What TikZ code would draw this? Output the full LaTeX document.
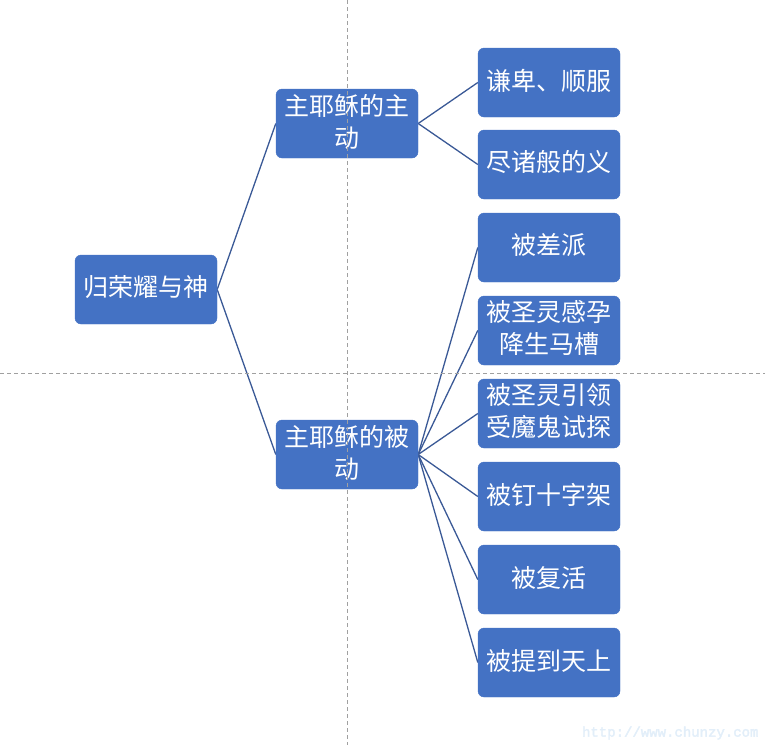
\documentclass[tikz,border=0pt]{standalone}
\usepackage{fontspec}
\usetikzlibrary{backgrounds}
\newfontfamily\cjk{Noto Sans CJK SC}
\newfontfamily\wmfont{Liberation Mono}[FakeBold=2.5]
\definecolor{boxblue}{HTML}{4472C4}
\definecolor{edgeblue}{HTML}{3A5996}
\definecolor{guidegray}{HTML}{A0A0A0}
\definecolor{wmblue}{HTML}{E2EEF9}
\tikzset{
  box/.style={rectangle, rounded corners=6pt, fill=boxblue, draw=boxblue,
    minimum width=142pt, minimum height=69pt, inner sep=0pt, align=center,
    text=white, font=\cjk\fontsize{25}{32}\selectfont},
  lbl/.style={text=white, align=center, inner sep=0pt,
    font=\cjk\fontsize{25}{32}\selectfont},
  link/.style={draw=edgeblue, line width=1.3pt},
  guide/.style={draw=guidegray, line width=0.9pt, dash pattern=on 4pt off 3pt},
}
\begin{document}
\begin{tikzpicture}[x=1pt, y=-1pt]
\useasboundingbox (0,0) rectangle (765,745);
\node[box] (root) at (146,289.5) {};
\node[box] (a1) at (347,123.5) {};
\node[box] (a2) at (347,454.5) {};
\node[box] (r1) at (549,82.5) {};
\node[box] (r2) at (549,164.5) {};
\node[box] (r3) at (549,247.5) {};
\node[box] (r4) at (549,330.5) {};
\node[box] (r5) at (549,413.5) {};
\node[box] (r6) at (549,496.5) {};
\node[box] (r7) at (549,579.5) {};
\node[box] (r8) at (549,662.5) {};
\node[lbl] (troot) at ([yshift=2pt]root.center) {归荣耀与神};
\node[lbl] (ta1) at ([yshift=2pt]a1.center) {主耶稣的主\\动};
\node[lbl] (ta2) at ([yshift=2pt]a2.center) {主耶稣的被\\动};
\node[lbl] (tr1) at ([yshift=2pt]r1.center) {谦卑、顺服};
\node[lbl] (tr2) at ([yshift=2pt]r2.center) {尽诸般的义};
\node[lbl] (tr3) at ([yshift=2pt]r3.center) {被差派};
\node[lbl] (tr4) at ([yshift=2pt]r4.center) {被圣灵感孕\\降生马槽};
\node[lbl] (tr5) at ([yshift=2pt]r5.center) {被圣灵引领\\受魔鬼试探};
\node[lbl] (tr6) at ([yshift=2pt]r6.center) {被钉十字架};
\node[lbl] (tr7) at ([yshift=2pt]r7.center) {被复活};
\node[lbl] (tr8) at ([yshift=2pt]r8.center) {被提到天上};
\begin{scope}[on background layer]
\foreach \c in {a1,a2} \draw[link] (root.east) -- (\c.west);
\foreach \c in {r1,r2} \draw[link] (a1.east) -- (\c.west);
\foreach \c in {r3,r4,r5,r6,r7,r8} \draw[link] (a2.east) -- (\c.west);
\end{scope}
\coordinate (vtop) at (347,0);
\coordinate (vbot) at (347,745);
\coordinate (hl) at (0,373);
\coordinate (hr) at (765,373);
\draw[guide] (vtop) -- (vbot);
\draw[guide] (hl) -- (hr);
\node[text=wmblue, font=\wmfont\fontsize{14}{14}\selectfont, anchor=east] (wm) at (762,733) {http://www.chunzy.com};
\end{tikzpicture}
\end{document}
